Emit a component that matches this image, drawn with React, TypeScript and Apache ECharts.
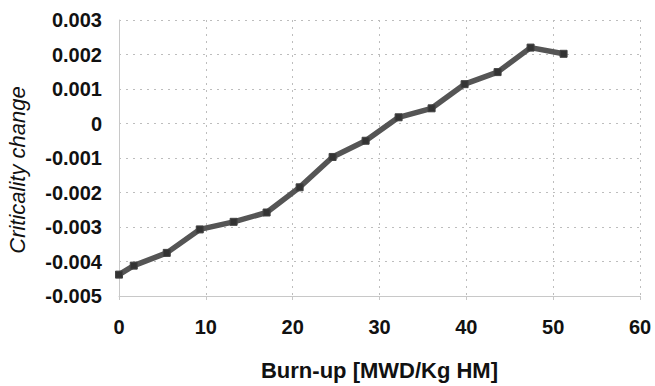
import React, { useEffect, useRef } from "react";
import * as echarts from "echarts";

const burnup = [0, 1.7, 5.5, 9.3, 13.2, 17, 20.8, 24.6, 28.4, 32.2, 36, 39.8, 43.6, 47.4, 51.2];
const criticality = [-0.00438, -0.00412, -0.00375, -0.00307, -0.00285, -0.00258, -0.00185, -0.00097, -0.0005, 0.00018, 0.00044, 0.00114, 0.00149, 0.0022, 0.00202];
const xTitle = "Burn-up [MWD/Kg HM]";
const yTitle = "Criticality change";

export default function App() {
  const ref = useRef<HTMLDivElement>(null);
  useEffect(() => {
    document.body.style.margin = "0";
    if (!ref.current) return;
    const chart = echarts.init(ref.current, null, { renderer: "svg" });
    const font = "'Liberation Sans', Arial, sans-serif";
    chart.setOption({
      animation: false,
      backgroundColor: "#ffffff",
      grid: { left: 119, right: 15, top: 20, bottom: 85 },
      graphic: [
        {
          type: "text",
          x: 17,
          y: 170,
          rotation: Math.PI / 2,
          style: {
            text: yTitle,
            fontFamily: font,
            fontSize: 22,
            fontStyle: "italic",
            fill: "#111",
            textAlign: "center",
            textVerticalAlign: "middle",
          },
        },
      ],
      xAxis: {
        type: "value",
        min: 0,
        max: 60,
        interval: 10,
        name: xTitle,
        nameLocation: "middle",
        nameGap: 63,
        nameTextStyle: { fontFamily: font, fontSize: 22, fontWeight: "bold", color: "#111" },
        axisLine: { show: true, onZero: false, lineStyle: { color: "#c8c8c8", width: 1 } },
        axisTick: { show: true, length: 4, lineStyle: { color: "#c8c8c8" } },
        axisLabel: { fontFamily: font, fontSize: 20, fontWeight: "bold", color: "#111", margin: 21 },
        splitLine: { show: true, lineStyle: { color: "#bdbdbd", type: [2, 5], width: 1 } },
      },
      yAxis: {
        type: "value",
        min: -0.005,
        max: 0.003,
        interval: 0.001,
        axisLine: { show: true, onZero: false, lineStyle: { color: "#c8c8c8", width: 1 } },
        axisTick: { show: false },
        axisLabel: {
          fontFamily: font,
          fontSize: 20,
          fontWeight: "bold",
          color: "#111",
          margin: 17,
          formatter: (v: number) => {
            const r = Math.round(v * 1000);
            return r === 0 ? "0" : (r / 1000).toFixed(3);
          },
        },
        splitLine: { show: true, lineStyle: { color: "#bdbdbd", type: [2, 5], width: 1 } },
      },
      series: [
        {
          type: "line",
          data: burnup.map((x, i) => [x, criticality[i]]),
          lineStyle: { color: "#555555", width: 5.5 },
          itemStyle: { color: "#333333", borderColor: "#444", borderWidth: 1 },
          symbol: "rect",
          symbolSize: 7,
          showSymbol: true,
        },
      ],
    });
    return () => chart.dispose();
  }, []);
  return <div ref={ref} style={{ width: 655, height: 386 }} />;
}
